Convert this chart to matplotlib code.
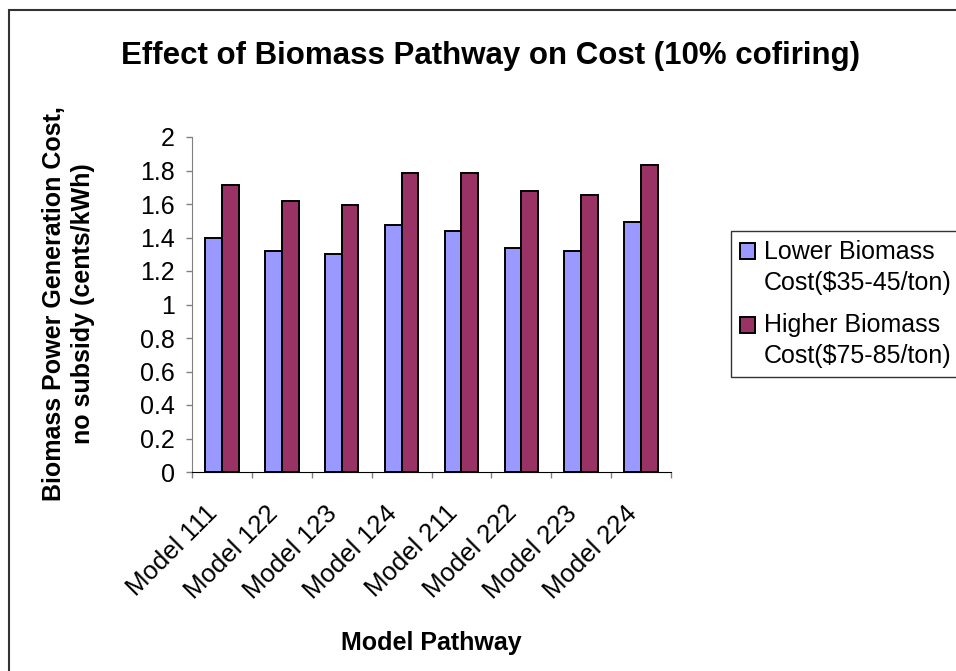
import numpy as np
import matplotlib.pyplot as plt
from matplotlib.patches import Rectangle
from matplotlib.transforms import ScaledTranslation

plt.rcParams['font.family'] = ['Liberation Sans', 'DejaVu Sans']

# chart data
models = ["Model 111", "Model 122", "Model 123", "Model 124",
          "Model 211", "Model 222", "Model 223", "Model 224"]
lower_cost = [1.40, 1.32, 1.30, 1.475, 1.44, 1.335, 1.32, 1.49]
higher_cost = [1.715, 1.62, 1.595, 1.785, 1.785, 1.68, 1.655, 1.835]
lower_label = "Lower Biomass\nCost($35-45/ton)"
higher_label = "Higher Biomass\nCost($75-85/ton)"
y_ticks = [0, 0.2, 0.4, 0.6, 0.8, 1, 1.2, 1.4, 1.6, 1.8, 2]
y_tick_labels = ["0", "0.2", "0.4", "0.6", "0.8", "1", "1.2", "1.4", "1.6", "1.8", "2"]

W, H = 956, 671
fig = plt.figure(figsize=(W / 100, H / 100), dpi=100)
ax = fig.add_axes([192 / W, 1 - 472 / H, (671 - 192) / W, (472 - 137) / H])

x = np.arange(len(models))
bw = 0.28
ax.bar(x - bw / 2, lower_cost, bw, color="#9999FF", edgecolor="black",
       linewidth=1.4, label=lower_label)
ax.bar(x + bw / 2, higher_cost, bw, color="#993366", edgecolor="black",
       linewidth=1.4, label=higher_label)

ax.set_xlim(-0.5, len(models) - 0.5)
ax.set_ylim(0, 2)
ax.set_yticks(y_ticks)
ax.set_yticklabels(y_tick_labels, fontsize=18)
ax.tick_params(axis="y", direction="out", length=4, width=1, color="#808080", pad=8.5)

# category boundaries as major ticks, names as minor ticks
ax.set_xticks(np.arange(len(models) + 1) - 0.5)
ax.set_xticklabels([])
ax.set_xticks(x, minor=True)
ax.set_xticklabels(models, minor=True, fontsize=18.5, rotation=45,
                   ha="right", va="center", rotation_mode="anchor")
ax.tick_params(axis="x", which="major", direction="out", length=4, width=1, color="#808080")
ax.tick_params(axis="x", which="minor", length=0, pad=27)
shift = ScaledTranslation(-8 / 100, 0, fig.dpi_scale_trans)
for lbl in ax.get_xticklabels(minor=True):
    lbl.set_transform(lbl.get_transform() + shift)

for s in ["top", "right"]:
    ax.spines[s].set_visible(False)
ax.spines["left"].set_color("#808080")
ax.spines["bottom"].set_color("black")

fig.text(491 / W, 1 - 64 / H, "Effect of Biomass Pathway on Cost (10% cofiring)",
         ha="center", va="baseline", fontsize=22.5, fontweight="bold")
fig.text(68.5 / W, 1 - 304 / H,
         "Biomass Power Generation Cost,\nno subsidy (cents/kWh)",
         rotation=90, ha="center", va="center", multialignment="center",
         fontsize=18, fontweight="bold", linespacing=1.25)
fig.text(431 / W, 1 - 650 / H, "Model Pathway", ha="center", va="baseline",
         fontsize=18, fontweight="bold")

leg = fig.legend(loc="upper left", bbox_to_anchor=(731 / W, 1 - 231 / H),
                 fontsize=18, frameon=True, fancybox=False, edgecolor="black",
                 handlelength=0.6, handleheight=0.6, handletextpad=0.35,
                 borderpad=0.35, labelspacing=0.75, borderaxespad=0)
leg.get_frame().set_linewidth(1)
for t in leg.get_texts():
    t.set_linespacing(1.36)
# markers sit next to the first line of each label
for h in leg.legend_handles:
    h.set_y(h.get_y() + 12)

# outer chart border, cut off at the right and bottom like the source
fig.patches.append(Rectangle((9 / W, -0.5), 2, 1.5 - 10 / H, transform=fig.transFigure,
                             fill=False, edgecolor="#333333", linewidth=1.5))

fig.savefig("out.png", dpi=100)
